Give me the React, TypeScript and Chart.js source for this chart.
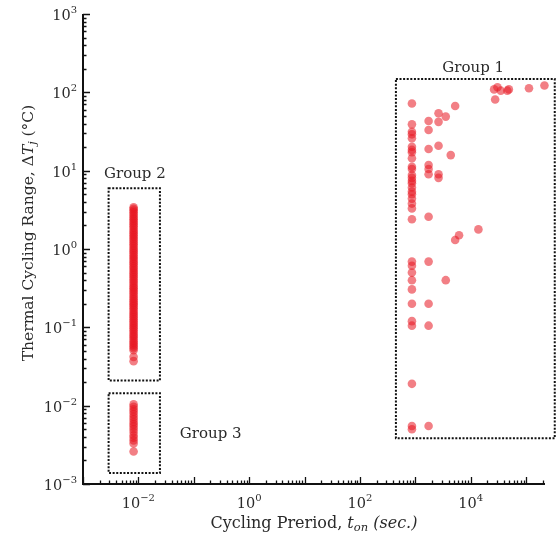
import { useEffect, useRef } from 'react';
import { Chart, registerables } from 'chart.js';

Chart.register(...registerables);

// ---------- data ----------
const xTickExponents = [-2, 0, 2, 4];
const yTickExponents = [-3, -2, -1, 0, 1, 2, 3];

const group1X = [
  870, 870, 870, 870, 870, 870, 870, 870, 870, 870, 870, 870, 870, 870, 870, 870, 870, 870, 870, 870, 870, 870,
  870, 870, 870, 870, 870, 870, 870, 870, 870, 870, 870,
  1740, 1740, 1740, 1740, 1740, 1740, 1740, 1740, 1740, 1740, 1740,
  2630, 2630, 2630, 2630, 2630,
  3550, 3550,
  4370,
  5250, 5250,
  6170,
  13800,
  30500, 26500, 35000, 49000, 46000, 113000, 215000, 27700,
];
const group1Y = [
  72, 39, 31.4, 29.1, 25.9, 20.2, 18.4, 17.2, 14.4, 11.2, 10.5, 8.8, 8.1, 7.4, 6.9, 6.1, 5.4, 5.0, 4.4, 3.8, 3.3, 2.4,
  0.69, 0.61, 0.5, 0.4, 0.305, 0.2, 0.12, 0.105, 0.019, 0.0055, 0.005,
  43, 33, 18.9, 11.8, 10.5, 9.0, 2.58, 0.69, 0.2, 0.105, 0.0055,
  54, 42, 20.8, 9.0, 8.1,
  49, 0.4,
  15.8,
  67, 1.3,
  1.5,
  1.78,
  116, 109, 105, 109, 105, 113, 122, 81,
];

const group2Period = 0.0082;
const group2Y = [
  3.4, 3.25, 3.1, 2.95, 2.8, 2.65, 2.5, 2.4, 2.28, 2.16, 2.05, 1.95, 1.85, 1.75, 1.66, 1.58, 1.5,
  1.42, 1.35, 1.28, 1.21, 1.15, 1.09, 1.03, 0.98, 0.93, 0.88, 0.83, 0.79, 0.75, 0.71, 0.67, 0.64,
  0.6, 0.57, 0.54, 0.51, 0.485, 0.46, 0.435, 0.41, 0.39, 0.37, 0.35, 0.33, 0.315, 0.3, 0.285, 0.27,
  0.255, 0.24, 0.228, 0.216, 0.205, 0.195, 0.185, 0.175, 0.166, 0.157, 0.149, 0.141, 0.134, 0.127,
  0.12, 0.114, 0.108, 0.102, 0.097, 0.092, 0.087, 0.082, 0.078, 0.074, 0.07, 0.066, 0.063, 0.06,
  0.057, 0.054, 0.051, 0.042, 0.037,
];

const group3Period = 0.0082;
const group3Y = [
  0.0104, 0.0097, 0.009, 0.0084, 0.0078, 0.0072, 0.0067, 0.0062, 0.0058, 0.0054, 0.005, 0.0046,
  0.0042, 0.0039, 0.0036, 0.0033, 0.0026,
];

const boxNames = ['Group 1', 'Group 2', 'Group 3'];
const boxXMin = [447, 0.0029, 0.0029];
const boxXMax = [330000, 0.0245, 0.0245];
const boxYMin = [0.00383, 0.021, 0.00138];
const boxYMax = [148, 5.96, 0.0144];
const boxLabelX = [11100, 0.00865, 0.202];
const boxLabelY = [212, 9.4, 0.00448];

const X_MIN = 1e-3;
const X_MAX = 2.2e5;
const Y_MIN = 1e-3;
const Y_MAX = 1e3;

// ---------- style ----------
const FONT = '"DejaVu Serif", "Liberation Serif", serif';
const TEXT = '#2a2a2a';
const POINT = 'rgba(232, 22, 32, 0.55)';

type Part = { t: string; italic?: boolean; size: number; dy?: number };

function richWidth(ctx: CanvasRenderingContext2D, parts: Part[]) {
  let w = 0;
  for (const p of parts) {
    ctx.font = `${p.italic ? 'italic ' : ''}${p.size}px ${FONT}`;
    w += ctx.measureText(p.t).width;
  }
  return w;
}

function drawRich(ctx: CanvasRenderingContext2D, parts: Part[], x: number, y: number, align: 'left' | 'center' | 'right') {
  const w = richWidth(ctx, parts);
  let cx = align === 'left' ? x : align === 'center' ? x - w / 2 : x - w;
  ctx.textAlign = 'left';
  ctx.textBaseline = 'alphabetic';
  for (const p of parts) {
    ctx.font = `${p.italic ? 'italic ' : ''}${p.size}px ${FONT}`;
    ctx.fillText(p.t, cx, y + (p.dy || 0));
    cx += ctx.measureText(p.t).width;
  }
}

function powParts(e: number): Part[] {
  const s = e < 0 ? '\u2212' + Math.abs(e) : String(e);
  return [
    { t: '10', size: 14.5 },
    { t: s, size: 10, dy: -7 },
  ];
}

const decorPlugin = {
  id: 'decor',
  beforeDatasetsDraw(chart: any) {
    const ctx: CanvasRenderingContext2D = chart.ctx;
    const xs = chart.scales.x;
    const ys = chart.scales.y;
    ctx.save();
    ctx.strokeStyle = '#111';
    ctx.lineWidth = 2;
    ctx.setLineDash([2, 1.6]);
    for (let i = 0; i < boxNames.length; i++) {
      const l = xs.getPixelForValue(boxXMin[i]);
      const r = xs.getPixelForValue(boxXMax[i]);
      const t = ys.getPixelForValue(boxYMax[i]);
      const b = ys.getPixelForValue(boxYMin[i]);
      ctx.strokeRect(l, t, r - l, b - t);
    }
    ctx.setLineDash([]);
    ctx.fillStyle = TEXT;
    for (let i = 0; i < boxNames.length; i++) {
      const x = xs.getPixelForValue(boxLabelX[i]);
      const y = ys.getPixelForValue(boxLabelY[i]);
      drawRich(ctx, [{ t: boxNames[i], size: 15 }], x, y + 5, 'center');
    }
    ctx.restore();
  },
  afterDraw(chart: any) {
    const ctx: CanvasRenderingContext2D = chart.ctx;
    const xs = chart.scales.x;
    const ys = chart.scales.y;
    const a = chart.chartArea;
    ctx.save();
    ctx.strokeStyle = '#111';
    ctx.lineWidth = 2;
    ctx.beginPath();
    ctx.moveTo(a.left, a.top);
    ctx.lineTo(a.left, a.bottom);
    ctx.lineTo(a.right, a.bottom);
    ctx.stroke();

    ctx.lineWidth = 1.3;
    ctx.beginPath();
    for (let e = -3; e <= 5; e++) {
      for (let m = 1; m <= 9; m++) {
        const v = m * Math.pow(10, e);
        if (v < X_MIN || v > X_MAX * 1.0001) continue;
        const px = Math.round(xs.getPixelForValue(v)) + 0.5;
        const len = m === 1 ? 7 : 3.5;
        ctx.moveTo(px, a.bottom);
        ctx.lineTo(px, a.bottom - len);
      }
    }
    for (let e = -3; e <= 3; e++) {
      for (let m = 1; m <= 9; m++) {
        const v = m * Math.pow(10, e);
        if (v < Y_MIN || v > Y_MAX * 1.0001) continue;
        const py = Math.round(ys.getPixelForValue(v)) + 0.5;
        const len = m === 1 ? 7 : 3.5;
        ctx.moveTo(a.left, py);
        ctx.lineTo(a.left + len, py);
      }
    }
    ctx.stroke();

    ctx.fillStyle = TEXT;
    for (const e of xTickExponents) {
      const px = xs.getPixelForValue(Math.pow(10, e));
      drawRich(ctx, powParts(e), px, a.bottom + 24, 'center');
    }
    for (const e of yTickExponents) {
      const py = ys.getPixelForValue(Math.pow(10, e));
      drawRich(ctx, powParts(e), a.left - 6, py + 6, 'right');
    }

    // x title
    const xTitle: Part[] = [
      { t: 'Cycling Preriod, ', size: 16 },
      { t: 't', size: 16, italic: true },
      { t: 'on', size: 11.5, italic: true, dy: 3 },
      { t: ' (sec.)', size: 16, italic: true },
    ];
    drawRich(ctx, xTitle, (a.left + a.right) / 2, a.bottom + 44, 'center');

    // y title
    const yTitle: Part[] = [
      { t: 'Thermal Cycling Range, \u0394', size: 15.5 },
      { t: 'T', size: 15.5, italic: true },
      { t: 'j', size: 11, italic: true, dy: 3 },
      { t: ' (', size: 15.5 },
      { t: '\u00b0', size: 15.5 },
      { t: 'C)', size: 15.5 },
    ];
    ctx.translate(33, 233);
    ctx.rotate(-Math.PI / 2);
    drawRich(ctx, yTitle, 0, 0, 'center');
    ctx.restore();
  },
};

export default function App() {
  const ref = useRef<HTMLCanvasElement | null>(null);
  useEffect(() => {
    document.body.style.margin = '0';
    const canvas = ref.current;
    if (!canvas) return;
    const pts = (xs: number[], ys: number[]) => xs.map((x, i) => ({ x, y: ys[i] }));
    const common = {
      backgroundColor: POINT,
      borderWidth: 0,
      pointRadius: 4.3,
      clip: false as any,
    };
    const chart = new Chart(canvas, {
      type: 'scatter',
      data: {
        datasets: [
          { label: 'Group 1', data: pts(group1X, group1Y), ...common },
          { label: 'Group 2', data: group2Y.map((y) => ({ x: group2Period, y })), ...common },
          { label: 'Group 3', data: group3Y.map((y) => ({ x: group3Period, y })), ...common },
        ],
      },
      options: {
        responsive: false,
        animation: false,
        layout: { padding: { left: 83, right: 13, top: 14, bottom: 54 } },
        scales: {
          x: { type: 'logarithmic', min: X_MIN, max: X_MAX, display: false },
          y: { type: 'logarithmic', min: Y_MIN, max: Y_MAX, display: false },
        },
        plugins: { legend: { display: false }, tooltip: { enabled: false } },
      },
      plugins: [decorPlugin as any],
    });
    return () => chart.destroy();
  }, []);
  return (
    <div style={{ position: 'absolute', left: 0, top: 0, width: 558, height: 538, background: '#fff' }}>
      <canvas ref={ref} width={558} height={538} style={{ display: 'block' }} />
    </div>
  );
}
